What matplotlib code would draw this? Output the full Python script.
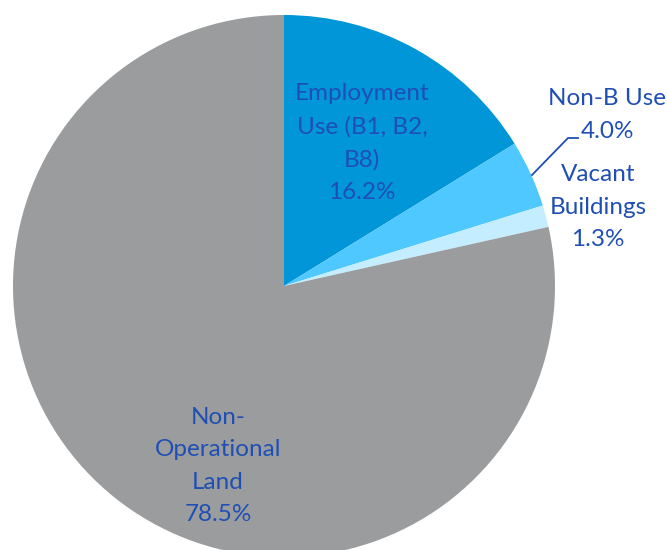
import numpy as np
import matplotlib.pyplot as plt

labels = ['Employment\nUse (B1, B2,\nB8)', 'Non-B Use', 'Vacant\nBuildings', 'Non-\nOperational\nLand']
values = [16.2, 4.0, 1.3, 78.5]
colors = ['#0096D7', '#4FC7FF', '#C4EDFF', '#9B9C9E']
text_color = '#1F4FB4'

W, H = 667, 550
cx, cy, r = 284, 286, 271

fig = plt.figure(figsize=(W / 100, H / 100), dpi=100)
ax = fig.add_axes([0, 0, 1, 1])

ax.pie(values, colors=colors, startangle=90, counterclock=False, radius=1,
       wedgeprops=dict(linewidth=0))

# put the pie where it sits in the original (partly cut at the bottom)
ax.set_aspect('auto')
ax.set_xlim(-cx / r, (W - cx) / r)
ax.set_ylim(-(H - cy) / r, cy / r)
ax.axis('off')

def px(x, y):
    # pixel position -> data coords
    return (x - cx) / r, (cy - y) / r

label_pos = [(362, 143), (607, 115), (598, 207), (218, 466)]
for lab, v, (x, y) in zip(labels, values, label_pos):
    tx, ty = px(x, y)
    ax.text(tx, ty, f'{lab}\n{v:.1f}%', ha='center', va='center', color=text_color,
            fontsize=17.5, family='Lato', linespacing=1.68)

# leader line for the small slice
pts = np.array([px(532, 175), px(568, 138), px(578, 138)])
ax.plot(pts[:, 0], pts[:, 1], color=text_color, lw=1.3)

fig.savefig('out.png', dpi=100)
